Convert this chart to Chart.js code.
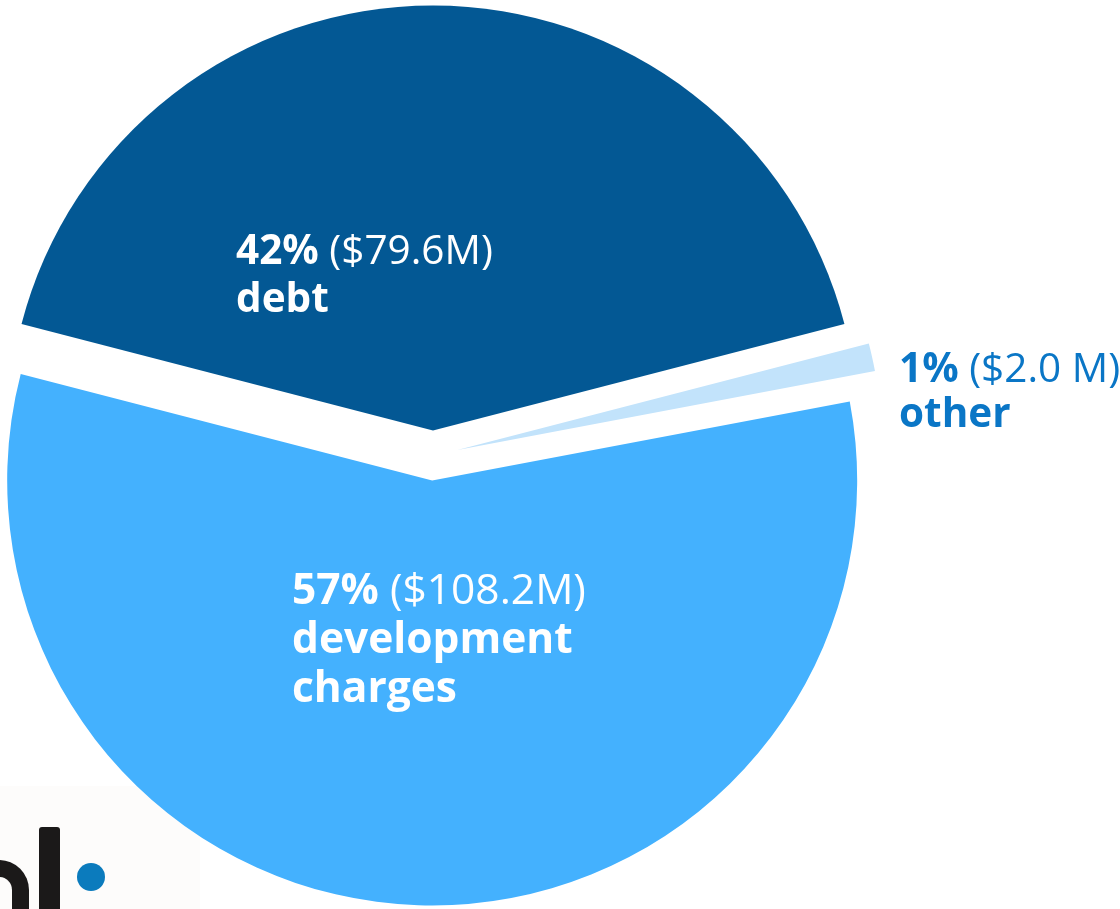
<!DOCTYPE html>
<html>
<head>
<meta charset="utf-8">
<script src="https://cdn.jsdelivr.net/npm/chart.js@4.4.1/dist/chart.umd.min.js"></script>
<style>
  body { margin: 0; background: #fff; }
  #wrap { position: relative; width: 1120px; height: 909px; overflow: hidden; }
  #logoBox { position: absolute; left: 0; top: 786px; width: 200px; height: 123px; background: #fdfcfb; }
  .bowl { position: absolute; left: -31px; top: 860px; width: 60px; height: 110px; border-radius: 30px; background: #1b1919; }
  .counter { position: absolute; left: -14px; top: 877px; width: 26px; height: 80px; border-radius: 13px; background: #fdfcfb; }
  .stem { position: absolute; left: 39px; top: 827px; width: 21px; height: 90px; border-radius: 3px; background: #1b1919; }
  .dot { position: absolute; left: 77px; top: 863px; width: 28px; height: 28px; border-radius: 50%; background: #0b7bbd; }
  canvas { position: absolute; left: 0; top: 0; }
</style>
</head>
<body>
<div id="wrap">
  <div id="logoBox"></div>
  <div class="bowl"></div>
  <div class="counter"></div>
  <div class="stem"></div>
  <div class="dot"></div>
  <canvas id="pie" width="1120" height="909"></canvas>
</div>
<script>
// data, clockwise from the left edge of "debt"
const categories = ['debt', 'other', 'development charges'];
const amounts = [79.6, 2.0, 108.2];            // $M
const amountLabels = ['$79.6M', '$2.0 M', '$108.2M'];
const sliceColors = ['#035894', '#c2e3fb', '#44b1fe'];

const RADIUS = 425;
const EXPLODE = 100;   // chart.js moves an arc by offset/4

// where each label sits (left x, first baseline)
const labelStyle = [
  { x: 236, y: 264, size: 40.5, lineH: 48, color: '#ffffff' },
  { x: 899, y: 382, size: 40.5, lineH: 45, color: '#0a76c6' },
  { x: 292, y: 604, size: 42.5, lineH: 49, color: '#ffffff' }
];

const total = amounts.reduce((a, b) => a + b, 0);

// keep every slice at the same radius / angle after the offset
const explodeFix = {
  id: 'explodeFix',
  afterDatasetUpdate(chart, args) {
    args.meta.data.forEach(arc => {
      const off = EXPLODE / 4;
      const fix = 1 - Math.sin(Math.min(Math.PI, arc.circumference));
      const ro = off * fix;
      arc.outerRadius = RADIUS - ro;
      const trim = ro / Math.PI / RADIUS;
      arc.startAngle -= trim / 2;
      arc.endAngle += trim / 2;
    });
  }
};

const sliceLabels = {
  id: 'sliceLabels',
  afterDatasetsDraw(chart) {
    const ctx = chart.ctx;
    ctx.save();
    ctx.textBaseline = 'alphabetic';
    ctx.textAlign = 'left';
    categories.forEach((name, i) => {
      const s = labelStyle[i];
      const pct = Math.round(amounts[i] / total * 100) + '%';
      ctx.fillStyle = s.color;
      ctx.font = `700 ${s.size}px "Open Sans"`;
      ctx.fillText(pct, s.x, s.y);
      const w = ctx.measureText(pct + ' ').width;
      ctx.font = `400 ${s.size}px "Open Sans"`;
      ctx.fillText('(' + amountLabels[i] + ')', s.x + w, s.y);
      ctx.font = `700 ${s.size}px "Open Sans"`;
      name.split(' ').forEach((word, k) => {
        ctx.fillText(word, s.x, s.y + s.lineH * (k + 1));
      });
    });
    ctx.restore();
  }
};

new Chart(document.getElementById('pie'), {
  type: 'pie',
  data: {
    labels: categories,
    datasets: [{
      data: amounts,
      backgroundColor: sliceColors,
      borderWidth: 0,
      offset: EXPLODE
    }]
  },
  options: {
    responsive: false,
    devicePixelRatio: 1,
    animation: false,
    rotation: 284.5,
    radius: RADIUS,
    layout: { padding: { left: 0, right: 254, top: 2, bottom: 0 } },
    plugins: {
      legend: { display: false },
      tooltip: { enabled: false }
    }
  },
  plugins: [explodeFix, sliceLabels]
});
</script>
</body>
</html>
